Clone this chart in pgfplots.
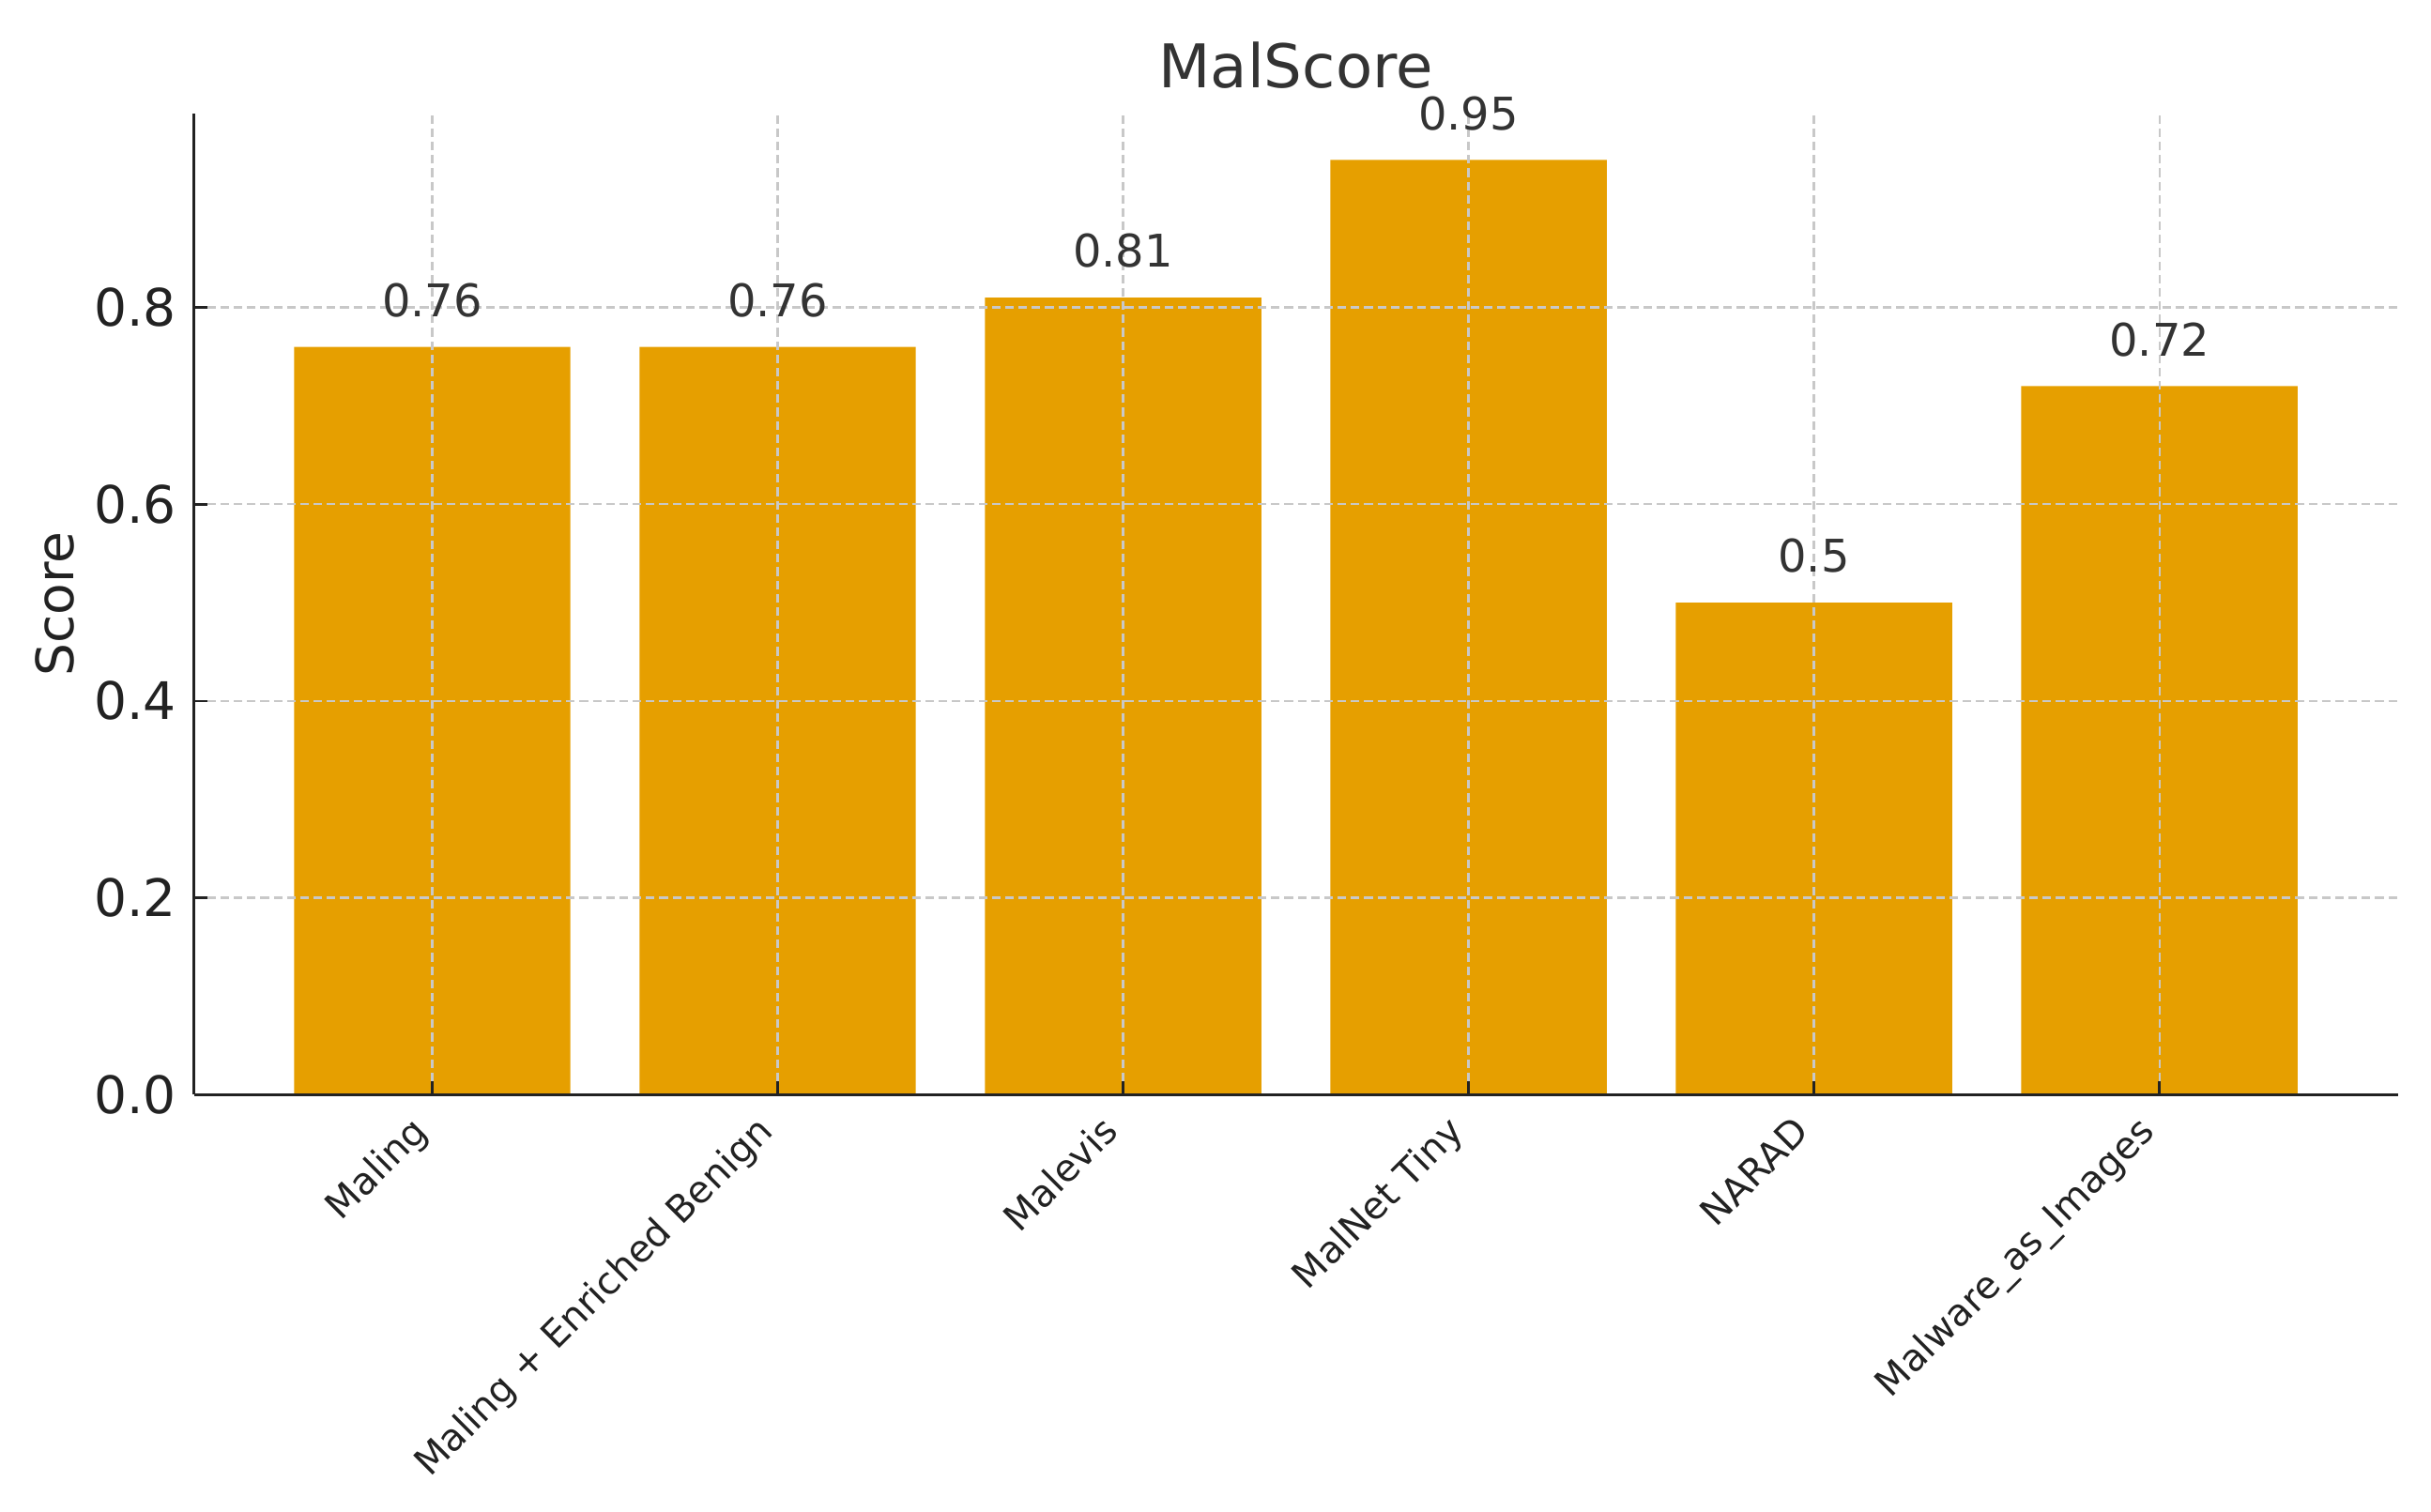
\documentclass[border=0pt]{standalone}
\usepackage{fontspec}
\setmainfont{DejaVu Sans}
\usepackage{pgfplots}
\pgfplotsset{compat=1.18}
\usetikzlibrary{calc}
\definecolor{barc}{HTML}{E69F00}
\definecolor{gridc}{HTML}{C8C8C8}
\definecolor{txt}{HTML}{333333}
\definecolor{axc}{HTML}{222222}
\begin{document}
\begin{tikzpicture}
\begin{axis}[
  name=ax,
  scale only axis,
  width=563.4pt, height=250.9pt,
  xmin=-0.69, xmax=5.69, ymin=0, ymax=0.9975,
  axis x line*=bottom, axis y line*=left,
  axis line style={axc, line width=0.8pt, -},
  ybar, bar width=0.8, bar shift=0pt,
  xtick={0,1,2,3,4,5},
  xticklabels={Maling, Maling + Enriched Benign, Malevis, MalNet Tiny, NARAD, Malware\_as\_Images},
  ytick={0,0.2,0.4,0.6,0.8},
  /pgf/number format/assume math mode=true,
  yticklabel style={/pgf/number format/fixed, /pgf/number format/fixed zerofill, /pgf/number format/precision=1},
  tick align=inside,
  major tick length=3.4pt,
  tick style={axc, line width=0.6pt},
  grid=major,
  major grid style={gridc, line width=0.55pt, dash pattern=on 2.2pt off 1.2pt},
  axis on top,
  title=MalScore,
  every axis title shift=0pt,
  title style={at={(0.5,1)}, anchor=base, yshift=6.4pt, font=\fontsize{15.4}{18}\selectfont, text=txt},
  ylabel=Score,
  ylabel style={at={(axis description cs:-0.0547,0.5)}, anchor=base, font=\fontsize{13.2}{16}\selectfont, text=axc},
  yticklabel style={font=\fontsize{13.2}{16}\selectfont, text=axc, inner sep=0pt, xshift=-4.3pt},
  xticklabel style={font=\fontsize{9.6}{11}\selectfont, text=axc, inner sep=0pt, text height=7.3pt, text depth=2.3pt, xshift=-6pt, yshift=-4.6pt, rotate=45, anchor=north east},
]
\addplot[fill=barc, draw=none, nodes near coords, point meta=explicit symbolic,
  every node near coord/.append style={font=\fontsize{11.5}{13}\selectfont, text=txt, inner sep=0pt, anchor=south, yshift=7.4pt}]
  table[x=x, y=y, meta=label] {
x y label
0 0.76 0.76
1 0.76 0.76
2 0.81 0.81
3 0.95 0.95
4 0.50 0.5
5 0.72 0.72
};
\end{axis}
\pgfresetboundingbox
\path[use as bounding box] ($(ax.south west)+(-49.56pt,-106.56pt)$) rectangle ($(ax.north east)+(8.5pt,28.94pt)$);
\end{tikzpicture}
\end{document}
